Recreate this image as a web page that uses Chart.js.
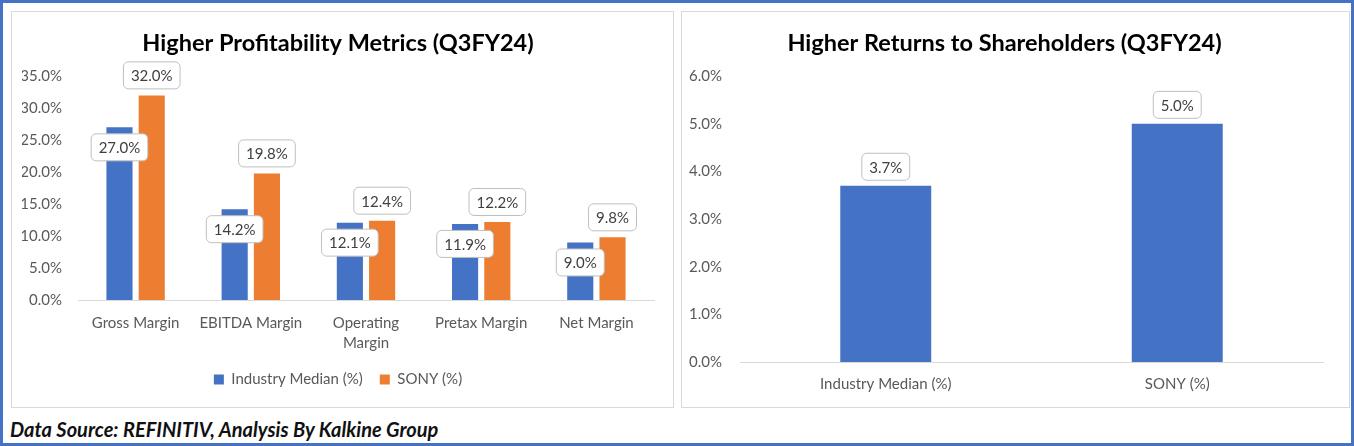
<!DOCTYPE html>
<html>
<head>
<meta charset="utf-8">
<script src="https://cdn.jsdelivr.net/npm/chart.js@4.4.1/dist/chart.umd.min.js"></script>
<style>
  body { margin: 0; background: #fff; }
  #frame { position: absolute; left: 0; top: 0; width: 1354px; height: 446px; box-sizing: border-box; border: 3px solid #4472c4; background: #fff; }
  .panel { position: absolute; top: 8px; height: 397px; box-sizing: border-box; border: 1px solid #d9d9d9; }
  #leftPanel { left: 8px; width: 663px; }
  #rightPanel { left: 678px; width: 669px; }
  #source { position: absolute; left: 7px; top: 414px; font-family: Lato, sans-serif; font-weight: bold; font-style: italic; font-size: 20px; color: #111; }
</style>
</head>
<body>
<div id="frame">
  <div class="panel" id="leftPanel"><canvas id="marginChart"></canvas></div>
  <div class="panel" id="rightPanel"><canvas id="returnChart"></canvas></div>
  <div id="source">Data Source: REFINITIV, Analysis By Kalkine Group</div>
</div>
<script>
// data
var marginCategories = ["Gross Margin", "EBITDA Margin", ["Operating", "Margin"], "Pretax Margin", "Net Margin"];
var industryMedian = [27.0, 14.2, 12.1, 11.9, 9.0];
var sony = [32.0, 19.8, 12.4, 12.2, 9.8];
var marginMax = 35;
var marginStep = 5;

var returnCategories = ["Industry Median (%)", "SONY (%)"];
var returnValues = [3.7, 5.0];
var returnMax = 6;
var returnStep = 1;

var BLUE = "#4472c4";
var ORANGE = "#ed7d31";
var TEXT = "#595959";
var FONT = "Lato, sans-serif";

// boxed value labels (like excel data callouts)
var boxLabels = {
	id : "boxLabels",
	afterDatasetsDraw : function(chart) {
		var ctx = chart.ctx;
		chart.data.datasets.forEach(function(ds, i) {
			var meta = chart.getDatasetMeta(i);
			meta.data.forEach(function(bar, j) {
				var txt = ds.data[j].toFixed(1) + "%";
				ctx.save();
				ctx.font = "15px " + FONT;
				var w = ctx.measureText(txt).width + 15;
				var h = 27;
				var cx = bar.x;
				var cy = bar.y + ds.labelOffset;
				ctx.beginPath();
				ctx.roundRect(cx - w / 2, cy - h / 2, w, h, 5);
				ctx.fillStyle = "#fff";
				ctx.fill();
				ctx.strokeStyle = "#bfbfbf";
				ctx.lineWidth = 1;
				ctx.stroke();
				ctx.fillStyle = "#404040";
				ctx.textAlign = "center";
				ctx.textBaseline = "middle";
				ctx.fillText(txt, cx, cy + 1);
				ctx.restore();
			});
		});
	}
};

function pct(v) { return Number(v).toFixed(1) + "%"; }

var marginChart = new Chart(document.getElementById("marginChart"), {
	type : "bar",
	data : {
		labels : marginCategories,
		datasets : [
			{
				label : "Industry Median (%)",
				data : industryMedian,
				backgroundColor : BLUE,
				labelOffset : 20,
				categoryPercentage : 0.56,
				barPercentage : 0.81
			},
			{
				label : "SONY (%)",
				data : sony,
				backgroundColor : ORANGE,
				labelOffset : -20,
				categoryPercentage : 0.56,
				barPercentage : 0.81
			}
		]
	},
	options : {
		responsive : true,
		maintainAspectRatio : false,
		animation : false,
		layout : { padding : { left : 10, right : 19, top : 10, bottom : 10 } },
		plugins : {
			title : {
				display : true,
				text : "Higher Profitability Metrics (Q3FY24)",
				color : "#000",
				font : { family : FONT, size : 23.5, weight : "bold" },
				padding : { top : 7, bottom : 19 }
			},
			legend : {
				position : "bottom",
				labels : {
					boxWidth : 10,
					boxHeight : 10,
					padding : 17,
					color : TEXT,
					font : { family : FONT, size : 15 }
				}
			},
			tooltip : { enabled : false }
		},
		scales : {
			x : {
				grid : { display : false, drawTicks : false },
				border : { color : "#d9d9d9" },
				afterFit : function(s) { s.height = 55; },
				ticks : { color : TEXT, padding : 13, maxRotation : 0, font : { family : FONT, size : 15, lineHeight : 1.33 } }
			},
			y : {
				min : 0,
				max : marginMax,
				grid : { display : false, drawTicks : false },
				border : { display : false },
				afterFit : function(s) { s.width = 56; },
				ticks : { stepSize : marginStep, padding : 16, color : TEXT, font : { family : FONT, size : 15 }, callback : pct }
			}
		}
	},
	plugins : [boxLabels]
});

var returnChart = new Chart(document.getElementById("returnChart"), {
	type : "bar",
	data : {
		labels : returnCategories,
		datasets : [
			{
				label : "Returns",
				data : returnValues,
				backgroundColor : BLUE,
				labelOffset : -19,
				categoryPercentage : 0.8,
				barPercentage : 0.39
			}
		]
	},
	options : {
		responsive : true,
		maintainAspectRatio : false,
		animation : false,
		layout : { padding : { left : 4, right : 26, top : 10, bottom : 1 } },
		plugins : {
			title : {
				display : true,
				text : "Higher Returns to Shareholders (Q3FY24)",
				color : "#000",
				font : { family : FONT, size : 23.5, weight : "bold" },
				padding : { top : 7, bottom : 19 }
			},
			legend : { display : false },
			tooltip : { enabled : false }
		},
		scales : {
			x : {
				grid : { display : false, drawTicks : false },
				border : { color : "#d9d9d9" },
				ticks : { color : TEXT, padding : 13, font : { family : FONT, size : 15 } }
			},
			y : {
				min : 0,
				max : returnMax,
				grid : { display : false, drawTicks : false },
				border : { display : false },
				afterFit : function(s) { s.width = 54; },
				ticks : { stepSize : returnStep, padding : 18, color : TEXT, font : { family : FONT, size : 15 }, callback : pct }
			}
		}
	},
	plugins : [boxLabels]
});
</script>
</body>
</html>
